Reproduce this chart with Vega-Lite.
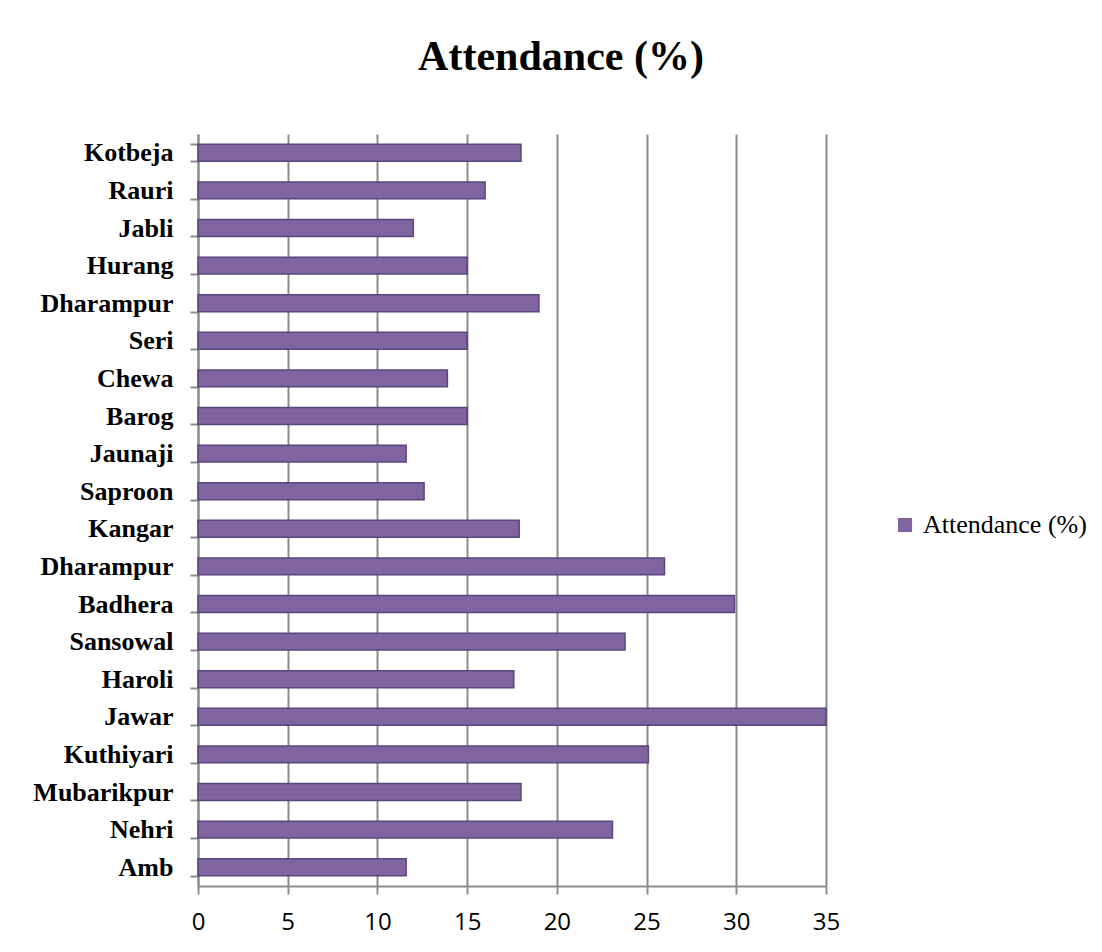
{
  "$schema": "https://vega.github.io/schema/vega-lite/v6.json",
  "width": 628,
  "height": 752,
  "padding": {"left": 32, "top": 36, "right": 5, "bottom": 5},
  "background": "white",
  "title": {
    "text": "Attendance (%)",
    "font": "Liberation Serif",
    "fontSize": 42,
    "fontWeight": "bold",
    "color": "black",
    "anchor": "middle",
    "dx": 49,
    "offset": 42
  },
  "data": {
    "values": [
      {"site": "Kotbeja", "attendance": 18.0},
      {"site": "Rauri", "attendance": 16.0},
      {"site": "Jabli", "attendance": 12.0},
      {"site": "Hurang", "attendance": 15.0},
      {"site": "Dharampur|1", "attendance": 19.0},
      {"site": "Seri", "attendance": 15.0},
      {"site": "Chewa", "attendance": 13.9},
      {"site": "Barog", "attendance": 15.0},
      {"site": "Jaunaji", "attendance": 11.6},
      {"site": "Saproon", "attendance": 12.6},
      {"site": "Kangar", "attendance": 17.9},
      {"site": "Dharampur|2", "attendance": 26.0},
      {"site": "Badhera", "attendance": 29.9},
      {"site": "Sansowal", "attendance": 23.8},
      {"site": "Haroli", "attendance": 17.6},
      {"site": "Jawar", "attendance": 35.0},
      {"site": "Kuthiyari", "attendance": 25.1},
      {"site": "Mubarikpur", "attendance": 18.0},
      {"site": "Nehri", "attendance": 23.1},
      {"site": "Amb", "attendance": 11.6}
    ]
  },
  "mark": {"type": "bar", "stroke": "#5A467C", "strokeWidth": 1.5},
  "encoding": {
    "y": {
      "field": "site",
      "type": "nominal",
      "sort": null,
      "scale": {"paddingInner": 0.55, "paddingOuter": 0.275},
      "axis": {
        "title": null,
        "labelExpr": "split(datum.label, '|')[0]",
        "labelFont": "Liberation Serif",
        "labelFontSize": 26,
        "labelFontWeight": "bold",
        "labelColor": "black",
        "labelPadding": 17,
        "tickBand": "extent",
        "tickSize": 8,
        "tickColor": "#8C8C8C",
        "tickWidth": 2,
        "domainColor": "#8C8C8C",
        "domainWidth": 2,
        "grid": false
      }
    },
    "x": {
      "field": "attendance",
      "type": "quantitative",
      "scale": {"domain": [0, 35], "nice": false},
      "axis": {
        "title": null,
        "values": [0, 5, 10, 15, 20, 25, 30, 35],
        "grid": true,
        "gridColor": "#8C8C8C",
        "gridWidth": 2,
        "gridOpacity": 1,
        "domainColor": "#8C8C8C",
        "domainWidth": 2,
        "tickColor": "#8C8C8C",
        "tickWidth": 2,
        "tickSize": 8,
        "labelFont": "Open Sans",
        "labelFontSize": 24,
        "labelColor": "black",
        "labelPadding": 16,
        "labelFlush": false
      }
    },
    "color": {
      "datum": "Attendance (%)",
      "scale": {"range": ["#8064A2"]},
      "legend": {
        "title": null,
        "orient": "none",
        "legendX": 694,
        "legendY": 378,
        "symbolType": "square",
        "symbolSize": 200,
        "symbolStrokeWidth": 0,
        "labelFont": "Liberation Serif",
        "labelFontSize": 26,
        "labelColor": "black",
        "labelOffset": 5,
        "labelLimit": 300
      }
    }
  },
  "config": {
    "view": {"stroke": null}
  }
}
